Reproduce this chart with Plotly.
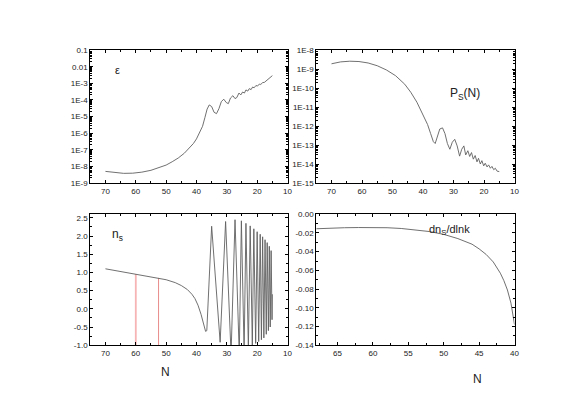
import plotly.graph_objects as go

# ---- data ----
# epsilon(N), top-left, log scale
eps_N = [70, 67, 64, 61, 58, 55, 52, 50, 48, 46, 44, 42, 41, 40, 39, 38, 37.2, 36.5, 35.8, 35.0, 34.2,
         33.4, 32.6, 31.8, 31.0, 30.2, 29.5, 28.8, 28.0, 27.3, 26.7, 26.0, 25.4, 24.8, 24.2, 23.7,
         23.1, 22.6, 22.0, 21.5, 21.0, 20.4, 19.9, 19.3, 18.8, 18.2, 17.6, 17.0, 16.4, 15.8, 15.0]
eps_val = [5e-9, 4.2e-9, 3.8e-9, 3.9e-9, 4.5e-9, 5.8e-9, 8.5e-9, 1.2e-8, 1.9e-8, 3.2e-8, 6.2e-8, 1.4e-7,
           2.4e-7, 4.5e-7, 1e-6, 2.6e-6, 9e-6, 2.8e-5, 5e-5, 4e-5, 1.8e-5,
           1.5e-5, 3e-5, 8e-5, 1.1e-4, 7e-5, 6e-5, 1.3e-4, 1.8e-4, 1.2e-4, 1.4e-4, 2.6e-4, 2e-4, 3e-4,
           2.6e-4, 4e-4, 3.4e-4, 4.8e-4, 4.2e-4, 6e-4, 5.4e-4, 7.4e-4, 6.8e-4, 9e-4, 8.6e-4, 1.1e-3,
           1.15e-3, 1.45e-3, 1.7e-3, 2.1e-3, 2.9e-3]

# P_s(N), top-right, log scale
ps_N = [70, 67, 64, 61, 58, 55, 52, 49, 46, 44, 42, 40, 38.5, 37.5, 36.6, 36.0, 35.3, 34.5, 33.6,
        32.8, 32.0, 31.2, 30.4, 29.6, 28.8, 28.0, 27.3, 26.6, 26.0, 25.3, 24.7, 24.1, 23.5, 22.9,
        22.3, 21.8, 21.2, 20.7, 20.1, 19.6, 19.0, 18.5, 17.9, 17.4, 16.8, 16.3, 15.7, 15.0]
ps_val = [1.9e-9, 2.4e-9, 2.6e-9, 2.5e-9, 2.1e-9, 1.5e-9, 9e-10, 4.5e-10, 1.6e-10, 6e-11, 1.8e-11,
          4e-12, 1.2e-12, 4e-13, 1.5e-13, 1.2e-13, 3e-13, 7e-13, 8e-13, 4e-13, 1.2e-13, 6e-14,
          1.4e-13, 2e-13, 9e-14, 2.6e-14, 6e-14, 9e-14, 3e-14, 5e-14, 2.5e-14, 4e-14, 1.8e-14, 2.8e-14,
          1.3e-14, 2e-14, 1e-14, 1.5e-14, 8e-15, 1.1e-14, 7e-15, 9e-15, 6e-15, 7.5e-15, 5e-15, 6e-15,
          4.2e-15, 4e-15]

# n_s(N), bottom-left
ns_N = [70, 65, 60, 55, 52.5, 50, 47, 45, 43, 41.5, 40.5, 39.5, 38.5, 37.6, 37.0, 36.6,
        35.0, 32.2, 30.4, 28.6, 27.3, 25.9, 25.2, 24.3, 23.7, 22.9, 22.3, 21.6, 21.1, 20.5, 20.0,
        19.5, 19.0, 18.6, 18.2, 17.8, 17.4, 17.0, 16.7, 16.3, 16.0, 15.7, 15.4, 15.1, 15.0]
ns_val = [1.1, 1.03, 0.96, 0.89, 0.85, 0.8, 0.72, 0.64, 0.53, 0.4, 0.28, 0.1, -0.15, -0.45, -0.62, -0.6,
          2.27, -0.92, 2.4, -1.25, 2.45, -1.25, 2.42, -1.2, 2.35, -1.1, 2.28, -1.0, 2.2, -0.95, 2.12,
          -0.9, 2.05, -0.85, 1.98, -0.8, 1.9, -0.7, 1.82, -0.6, 1.72, -0.5, 1.6, -0.3, 0.4]

# vertical markers on the n_s panel
mark_N = [60, 52.5]
mark_top = [0.96, 0.85]
mark_colors = ["#f7b4b4", "#e88c8c"]
mark_widths = [1.8, 1.0]

# dn_s/dlnk(N), bottom-right
run_N = [68, 66, 64, 62, 60, 58, 56, 54, 52, 50, 48, 46, 45, 44, 43, 42, 41.5, 41, 40.5, 40]
run_val = [-0.0155, -0.0148, -0.0144, -0.0142, -0.0142, -0.0144, -0.0152, -0.0165, -0.0185, -0.0215,
           -0.026, -0.032, -0.037, -0.043, -0.051, -0.063, -0.071, -0.081, -0.095, -0.118]

eps_ticks = [-1, -2, -3, -4, -5, -6, -7, -8, -9]
eps_text = ["0.1", "0.01", "1E-3", "1E-4", "1E-5", "1E-6", "1E-7", "1E-8", "1E-9"]
ps_ticks = [-8, -9, -10, -11, -12, -13, -14, -15]
ps_text = ["1E-8", "1E-9", "1E-10", "1E-11", "1E-12", "1E-13", "1E-14", "1E-15"]
ns_ticks = [2.5, 2.0, 1.5, 1.0, 0.5, 0.0, -0.5, -1.0]
ns_text = ["2.5", "2.0", "1.5", "1.0", "0.5", "0.0", "-0.5", "-1.0"]
run_ticks = [0.0, -0.02, -0.04, -0.06, -0.08, -0.10, -0.12, -0.14]
run_text = ["0.00", "-0.02", "-0.04", "-0.06", "-0.08", "-0.10", "-0.12", "-0.14"]
n_ticks = [70, 60, 50, 40, 30, 20, 10]
n_ticks2 = [65, 60, 55, 50, 45, 40]

W, H = 568, 393
LINE = dict(color="#606060", width=0.9)
FONT = "Liberation Sans, Arial, sans-serif"


def px(x):
    return x / W


def py(y):
    return 1 - y / H


fig = go.Figure()
fig.add_trace(go.Scatter(x=eps_N, y=eps_val, mode="lines", line=LINE, xaxis="x", yaxis="y"))
fig.add_trace(go.Scatter(x=ps_N, y=ps_val, mode="lines", line=LINE, xaxis="x2", yaxis="y2"))
for n, top, c, w in zip(mark_N, mark_top, mark_colors, mark_widths):
    fig.add_trace(go.Scatter(x=[n, n], y=[-1.0, top], mode="lines",
                             line=dict(color=c, width=w), xaxis="x3", yaxis="y3"))
fig.add_trace(go.Scatter(x=ns_N, y=ns_val, mode="lines", line=LINE, xaxis="x3", yaxis="y3"))
fig.add_trace(go.Scatter(x=run_N, y=run_val, mode="lines", line=LINE, xaxis="x4", yaxis="y4"))

common = dict(showline=True, linecolor="black", linewidth=1, mirror="allticks",
              ticks="inside", ticklen=3, tickcolor="black", showgrid=False, zeroline=False,
              tickfont=dict(size=8, family=FONT, color="#222"))
lin_minor = dict(ticks="inside", ticklen=2, tickcolor="black")
log_minor = dict(ticks="inside", ticklen=2, tickcolor="black", dtick="D1")

xdom1 = [px(83), px(282)]
xdom2 = [px(311), px(511)]
ydom_top = [py(175), py(39)]
ydom_bot = [py(341), py(207)]

fig.update_layout(
    width=W, height=H, margin=dict(l=0, r=0, t=0, b=0),
    paper_bgcolor="white", plot_bgcolor="white", showlegend=False,
    font=dict(family=FONT, color="#222"),
    xaxis=dict(domain=xdom1, anchor="y", range=[75, 10], tickvals=n_ticks,
               minor=dict(dtick=5, **lin_minor), **common),
    yaxis=dict(domain=ydom_top, anchor="x", type="log", range=[-9, -1],
               tickvals=[10 ** t for t in eps_ticks], ticktext=eps_text, minor=log_minor, **common),
    xaxis2=dict(domain=xdom2, anchor="y2", range=[75, 10], tickvals=n_ticks,
                minor=dict(dtick=5, **lin_minor), **common),
    yaxis2=dict(domain=ydom_top, anchor="x2", type="log", range=[-15, -8],
                tickvals=[10 ** t for t in ps_ticks], ticktext=ps_text, minor=log_minor, **common),
    xaxis3=dict(domain=xdom1, anchor="y3", range=[75, 10], tickvals=n_ticks,
                minor=dict(dtick=5, **lin_minor), **common),
    yaxis3=dict(domain=ydom_bot, anchor="x3", range=[-1.0, 2.6], tickvals=ns_ticks, ticktext=ns_text,
                minor=dict(dtick=0.25, **lin_minor), **common),
    xaxis4=dict(domain=xdom2, anchor="y4", range=[68, 40], tickvals=n_ticks2,
                minor=dict(dtick=2.5, **lin_minor), **common),
    yaxis4=dict(domain=ydom_bot, anchor="x4", range=[-0.14, 0.0], tickvals=run_ticks, ticktext=run_text,
                minor=dict(dtick=0.01, **lin_minor), **common),
)


def label(x, y, text, size):
    fig.add_annotation(x=px(x), y=py(y), xref="paper", yref="paper", showarrow=False, text=text,
                       font=dict(family=FONT, size=size, color="#222"))


label(106, 51, "ε", 11)
label(478, 74, "P<sub>S</sub>(N)", 12)
label(103, 228, "n<sub>s</sub>", 12)
label(468, 223, "dn<sub>S</sub>/dlnk", 11)
label(152, 378, "N", 12)
label(480, 385, "N", 12)

fig.write_html("out.html")
